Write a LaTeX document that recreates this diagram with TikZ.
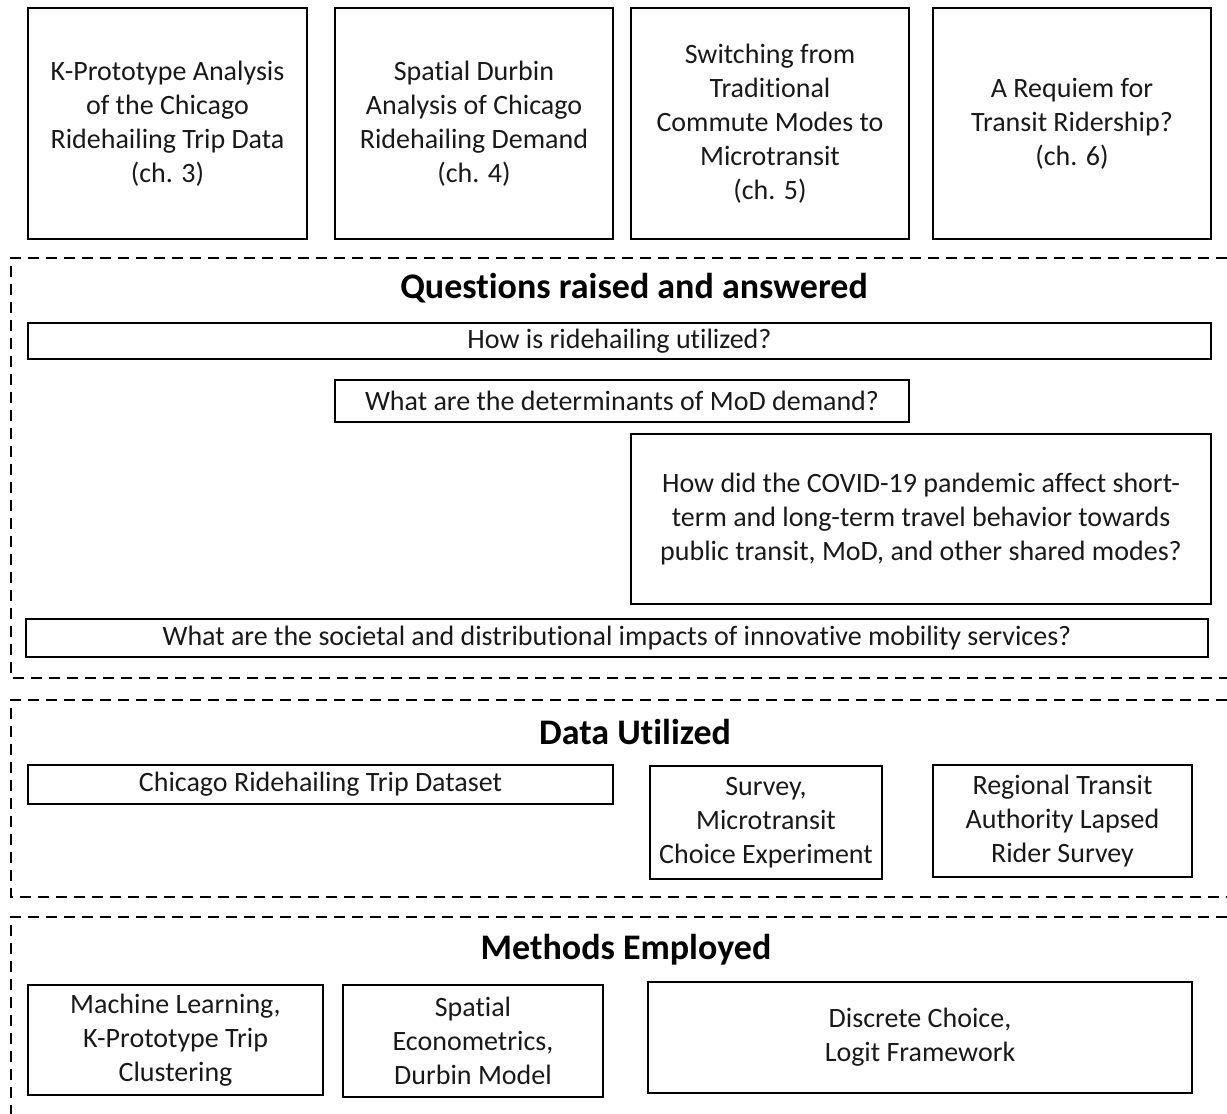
\documentclass[tikz,border=0pt]{standalone}
\usepackage{fontspec}
\setmainfont{Carlito}[Ligatures=NoCommon]
\begin{document}
\begin{tikzpicture}[x=1pt,y=-1pt,
  box/.style={draw=black, line width=2pt, inner sep=0pt, align=center,
    font=\fontsize{28}{34}\selectfont, text=black!90},
  heading/.style={inner sep=0pt, font=\fontsize{36}{40}\bfseries\selectfont},
  region/.style={draw=black, line width=2.2pt, dash pattern=on 11pt off 7pt}]
\useasboundingbox (0,0) rectangle (1227,1114);

% chapter boxes
\node[box, minimum width=279, minimum height=231] (ch3) at (167.5,123.5)
  {K-Prototype Analysis\\of the Chicago\\Ridehailing Trip Data\\(ch. 3)};
\node[box, minimum width=278, minimum height=231] (ch4) at (474,123.5)
  {Spatial Durbin\\Analysis of Chicago\\Ridehailing Demand\\(ch. 4)};
\node[box, minimum width=278, minimum height=231] (ch5) at (770,123.5)
  {Switching from\\Traditional\\Commute Modes to\\Microtransit\\(ch. 5)};
\node[box, minimum width=278, minimum height=231] (ch6) at (1072,123.5)
  {A Requiem for\\Transit Ridership?\\(ch. 6)};

% questions section
\coordinate (qa) at (1227,258);
\coordinate (qb) at (11,258);
\coordinate (qc) at (11,678);
\coordinate (qd) at (1227,678);
\draw[region] (qa) -- (qb) -- (qc) -- (qd);
\node[heading] (qhead) at (634,288) {Questions raised and answered};
\node[box, minimum width=1183, minimum height=36] (q1) at (619.5,341)
  {How is ridehailing utilized?};
\node[box, minimum width=574, minimum height=42] (q2) at (622,401)
  {What are the determinants of MoD demand?};
\node[box, minimum width=580, minimum height=170] (q3) at (921,519)
  {How did the COVID-19 pandemic affect short-\\term and long-term travel behavior towards\\public transit, MoD, and other shared modes?};
\node[box, minimum width=1182, minimum height=38] (q4) at (617,638)
  {What are the societal and distributional impacts of innovative mobility services?};

% data section
\coordinate (da) at (1227,700);
\coordinate (db) at (11,700);
\coordinate (dc) at (11,897);
\coordinate (dd) at (1227,897);
\draw[region] (da) -- (db) -- (dc) -- (dd);
\node[heading] (dhead) at (635,732) {Data Utilized};
\node[box, minimum width=585, minimum height=39] (d1) at (320.5,784.5)
  {Chicago Ridehailing Trip Dataset};
\node[box, minimum width=232, minimum height=113] (d2) at (766,822.5)
  {Survey,\\Microtransit\\Choice Experiment};
\node[box, minimum width=259, minimum height=112] (d3) at (1062.5,821)
  {Regional Transit\\Authority Lapsed\\Rider Survey};

% methods section
\coordinate (ma) at (1227,917);
\coordinate (mb) at (11,917);
\coordinate (mc) at (11,1114);
\draw[region] (ma) -- (mb) -- (mc);
\node[heading] (mhead) at (626,950) {Methods Employed};
\node[box, minimum width=295, minimum height=110] (m1) at (175.5,1040)
  {Machine Learning,\\K-Prototype Trip\\Clustering};
\node[box, minimum width=260, minimum height=112] (m2) at (473,1041)
  {Spatial\\Econometrics,\\Durbin Model};
\node[box, minimum width=544, minimum height=111] (m3) at (920,1037.5)
  {Discrete Choice,\\Logit Framework};
\end{tikzpicture}
\end{document}
